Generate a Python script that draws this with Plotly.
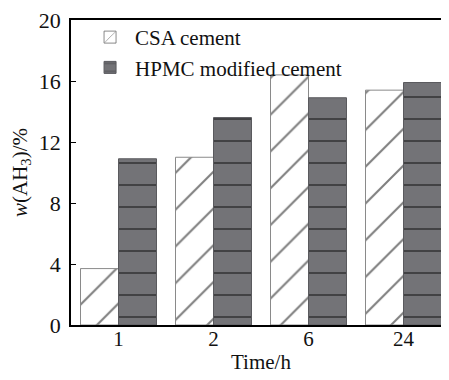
import plotly.graph_objects as go

categories = ["1", "2", "6", "24"]
csa_values = [3.7, 11.0, 16.4, 15.4]
hpmc_values = [10.9, 13.6, 14.9, 15.9]
y_ticks = [0, 4, 8, 12, 16, 20]

FONT = "Liberation Serif, Times New Roman, serif"

fig = go.Figure()
fig.add_trace(go.Bar(
    x=categories, y=csa_values, name="CSA cement",
    marker=dict(
        color="white",
        line=dict(color="#8a8a8a", width=1),
        pattern=dict(shape="/", bgcolor="white", fgcolor="#000000", size=26, solidity=0.08),
    ),
))
fig.add_trace(go.Bar(
    x=categories, y=hpmc_values, name="HPMC modified cement",
    marker=dict(
        color="#737377",
        line=dict(color="#5a5a5e", width=1),
        pattern=dict(shape="-", bgcolor="#737377", fgcolor="#111111", size=22, solidity=0.09),
    ),
))

fig.update_layout(
    width=449, height=380,
    margin=dict(l=63, r=6, t=12, b=63),
    paper_bgcolor="white", plot_bgcolor="white",
    barmode="group", bargap=0.2, bargroupgap=0,
    font=dict(family=FONT, size=21, color="#111111"),
    legend=dict(
        x=0.037, y=1.01, xanchor="left", yanchor="top",
        bgcolor="rgba(0,0,0,0)", font=dict(family=FONT, size=21),
        tracegroupgap=0, itemwidth=40,
    ),
    showlegend=True,
)
fig.update_xaxes(
    type="category", range=[-0.5, 3.5], automargin=False,
    showline=True, linecolor="black", linewidth=2, mirror=True,
    ticks="", showgrid=False, zeroline=False,
    tickfont=dict(family=FONT, size=21), ticklabelstandoff=-6,
    title=dict(text="Time/h", font=dict(family=FONT, size=21), standoff=4),
)
fig.update_yaxes(
    range=[0, 20], tickvals=y_ticks, automargin=False,
    showline=True, linecolor="black", linewidth=1.5, mirror=True,
    ticks="inside", ticklen=5, tickcolor="black",
    showgrid=False, zeroline=False, ticklabeloverflow="allow",
    tickfont=dict(family=FONT, size=22), ticklabelstandoff=4,
    title=dict(text="<i>w</i>(AH<sub>3</sub>)/%", font=dict(family=FONT, size=21), standoff=6),
)

fig.write_html("out.html")
